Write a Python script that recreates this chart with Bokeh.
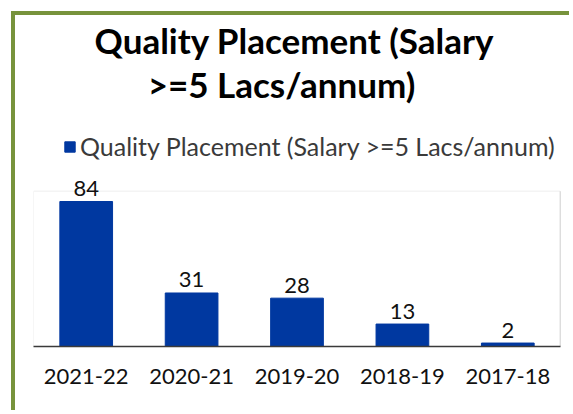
from bokeh.plotting import figure
from bokeh.models import (ColumnDataSource, FactorRange, Range1d, Label, Legend, LegendItem)
from bokeh.core.properties import value
from bokeh.embed import file_html
from bokeh.resources import INLINE

categories = ["2021-22", "2020-21", "2019-20", "2018-19", "2017-18"]
placements = [84, 31, 28, 13, 2]
series_name = "Quality Placement (Salary >=5 Lacs/annum)"
title_lines = ["Quality Placement (Salary", ">=5 Lacs/annum)"]
axis_max = 90  # value axis maximum of the plot area

FONT = "Lato"
BAR = "#0038a0"
GREEN = "#77933c"

src = ColumnDataSource(dict(cat=categories, val=placements, lbl=[str(v) for v in placements]))

px_per_unit = 145.0 / 84.0
frame_h = 331
p = figure(width=558, height=399, x_range=FactorRange(*categories, range_padding=0),
           y_range=Range1d(0, frame_h / px_per_unit), output_backend="svg", toolbar_location=None,
           min_border_left=18, min_border_right=13, min_border_top=0, min_border_bottom=68,
           styles={"margin-left": "11px", "margin-top": "11px",
                   "border-left": f"4px solid {GREEN}", "border-top": f"4px solid {GREEN}"})
p.background_fill_color = "white"
p.border_fill_color = "white"
p.outline_line_color = None
p.grid.visible = False
p.yaxis.visible = False

n = len(categories)
# plot-area box: faint left/top, grey right
p.quad(left=[0], right=[n], bottom=[0], top=[axis_max], fill_color=None, line_color="#eeeeee", line_width=1)
p.segment(x0=[n], x1=[n], y0=[0], y1=[axis_max], line_color="#c4c4c4", line_width=1.5)

bars = p.vbar(x="cat", top="val", width=0.5, source=src, fill_color=BAR, line_color=BAR)
p.text(x="cat", y="val", text="lbl", source=src, text_align="center", text_baseline="alphabetic",
       y_offset=-13, text_font=value(FONT), text_font_size="22px", text_color="#111111")

xa = p.xaxis[0]
xa.axis_line_color = "#3a3a3a"
xa.axis_line_width = 1.5
xa.major_tick_line_color = None
xa.minor_tick_line_color = None
xa.major_label_text_font = FONT
xa.major_label_text_font_size = "22px"
xa.major_label_text_color = "#111111"
xa.major_label_standoff = 16

# titles (frame-relative screen coordinates)
for txt, cx, by in zip(title_lines, [261, 248], [307, 263]):
    p.add_layout(Label(x=cx, y=by, x_units="screen", y_units="screen", text=txt,
                       text_align="center", text_baseline="alphabetic", text_font=FONT,
                       text_font_style="bold", text_font_size="35px", text_color="#000000"))

legend = Legend(items=[LegendItem(label=series_name, renderers=[bars])], location=(30, 185),
                glyph_width=13, glyph_height=13, label_standoff=4, padding=0, margin=0,
                border_line_color=None, background_fill_alpha=0, label_text_font=FONT,
                label_text_font_size="25px", label_text_color="#3a3a3a", label_height=13)
p.add_layout(legend, "center")

open("out.html", "w").write(file_html(p, INLINE))
